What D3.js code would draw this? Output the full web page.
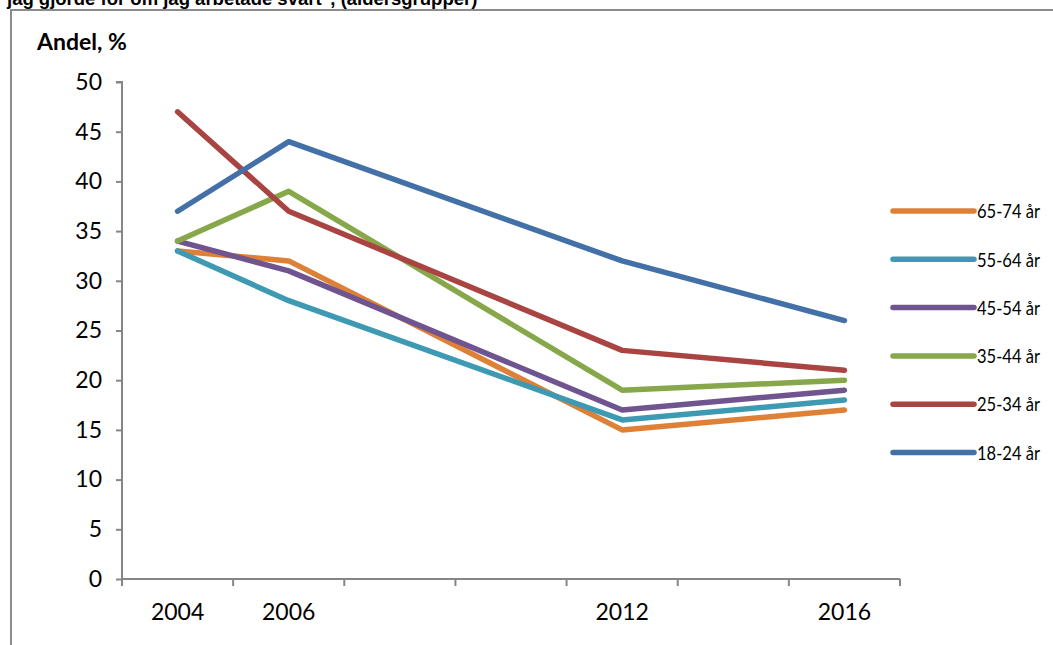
<!DOCTYPE html>
<html><head><meta charset="utf-8">
<script src="https://cdn.jsdelivr.net/npm/d3@7"></script>
<style>body{margin:0;background:#fff}svg{display:block}</style>
</head><body>
<svg id="c" width="1053" height="645"></svg>
<script>
const categories = ["2004","2006","2008","2010","2012","2014","2016"];
const tickLabels = ["2004","2006","","","2012","","2016"];
const seriesNames = ["65-74 år","55-64 år","45-54 år","35-44 år","25-34 år","18-24 år"];
const seriesColors = ["#DE8137","#3E9AB2","#6F548F","#87A84A","#A94442","#4470A8"];
const v6574 = [33,32,null,null,15,null,17];
const v5564 = [33,28,null,null,16,null,18];
const v4554 = [34,31,null,null,17,null,19];
const v3544 = [34,39,null,null,19,null,20];
const v2534 = [47,37,null,null,23,null,21];
const v1824 = [37,44,null,null,32,null,26];
const yTicks = [0,5,10,15,20,25,30,35,40,45,50];
const seriesValues = [v6574,v5564,v4554,v3544,v2534,v1824];

const svg = d3.select("#c");
const axisColor = "#868686";

svg.append("path").attr("d","M11,660 L11,10 L1070,10").attr("fill","none")
  .attr("stroke","#8c8c8c").attr("stroke-width",2);

svg.append("text").attr("x",7).attr("y",5)
  .attr("font-family","Liberation Sans, Arial, sans-serif").attr("font-weight","bold")
  .attr("font-size",18.5).attr("fill","#000")
  .text("jag gjorde för om jag arbetade svart\", (åldersgrupper)");

svg.append("text").attr("x",37).attr("y",50)
  .attr("font-family","Lato, sans-serif").attr("font-weight","bold")
  .attr("font-size",23).attr("fill","#000").text("Andel, %");

const x = d3.scaleBand().domain(categories).range([122,900]);
const y = d3.scaleLinear().domain([0,50]).range([579,82]);

const fontTick = "Lato, sans-serif";

const gy = svg.append("g").attr("transform","translate(122,0)")
  .call(d3.axisLeft(y).tickValues(yTicks).tickSize(6).tickPadding(14));
gy.select(".domain").attr("stroke",axisColor).attr("stroke-width",2).attr("d","M-6,82H0V579");
gy.selectAll(".tick line").attr("stroke",axisColor).attr("stroke-width",2);
gy.selectAll("text").attr("font-family",fontTick).attr("font-size",23).attr("fill","#000");

const gx = svg.append("g").attr("transform","translate(0,579)")
  .call(d3.axisBottom(x).tickFormat((d,i)=>tickLabels[i]).tickSize(0).tickPadding(25));
gx.select(".domain").attr("stroke",axisColor).attr("stroke-width",2).attr("d","M122,0H900");
gx.selectAll("text").attr("font-family",fontTick).attr("font-size",23).attr("fill","#000");
const bounds = categories.map(c=>x(c)).concat([x.range()[1]]);
gx.selectAll(".bt").data(bounds).enter().append("line").attr("class","bt")
  .attr("x1",d=>d).attr("x2",d=>d).attr("y1",0).attr("y2",7)
  .attr("stroke",axisColor).attr("stroke-width",2);

const line = d3.line().x(d=>x(d.c)+x.bandwidth()/2).y(d=>y(d.v));
seriesValues.forEach((vals,i)=>{
  const pts = vals.map((v,j)=>({c:categories[j],v})).filter(d=>d.v!==null);
  svg.append("path").datum(pts).attr("d",line).attr("fill","none")
    .attr("stroke",seriesColors[i]).attr("stroke-width",5.5)
    .attr("stroke-linecap","round").attr("stroke-linejoin","round");
});

const lg = svg.append("g");
seriesNames.forEach((n,i)=>{
  const ly = 211 + i*48.3;
  lg.append("line").attr("x1",893).attr("x2",974).attr("y1",ly).attr("y2",ly)
    .attr("stroke",seriesColors[i]).attr("stroke-width",5.5).attr("stroke-linecap","round");
  lg.append("text").attr("x",977).attr("y",ly).attr("dy","0.36em")
    .attr("font-family",fontTick).attr("font-size",20).attr("fill","#000")
    .attr("textLength",63).attr("lengthAdjust","spacingAndGlyphs").text(n);
});
</script>
</body></html>
